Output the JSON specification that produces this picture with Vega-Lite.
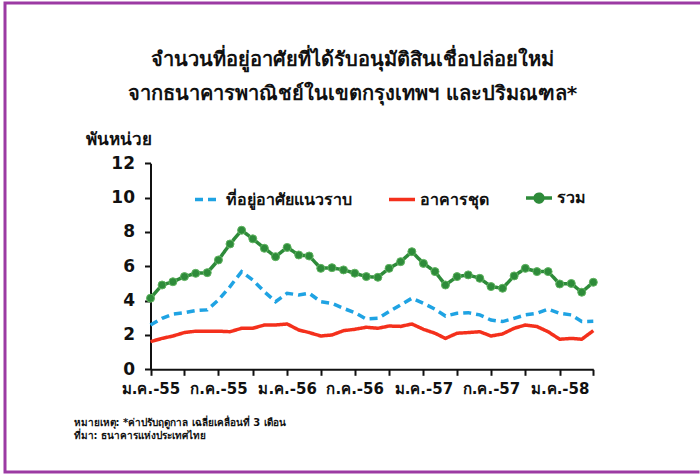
{
  "$schema": "https://vega.github.io/schema/vega-lite/v6.json",
  "width": 695,
  "height": 469,
  "autosize": "none",
  "padding": {"left": 5, "top": 3, "right": 0, "bottom": 2},
  "background": "white",
  "config": {
    "view": {"stroke": "#9c3aa3", "strokeWidth": 3, "strokeDash": [696.5, 468, 1170, 0]},
    "font": "Tahoma, DejaVu Sans, sans-serif"
  },
  "title": {
    "text": ["จำนวนที่อยู่อาศัยที่ได้รับอนุมัติสินเชื่อปล่อยใหม่", "จากธนาคารพาณิชย์ในเขตกรุงเทพฯ และปริมณฑล*"],
    "frame": "group",
    "anchor": "middle",
    "orient": "top",
    "offset": -101,
    "fontSize": 20,
    "fontWeight": "bold",
    "lineHeight": 34,
    "color": "#111111"
  },
  "data": {
    "values": [
      {"date": "2012-01-01", "series": "ที่อยู่อาศัยแนวราบ", "value": 2.58},
      {"date": "2012-02-01", "series": "ที่อยู่อาศัยแนวราบ", "value": 2.97},
      {"date": "2012-03-01", "series": "ที่อยู่อาศัยแนวราบ", "value": 3.22},
      {"date": "2012-04-01", "series": "ที่อยู่อาศัยแนวราบ", "value": 3.3},
      {"date": "2012-05-01", "series": "ที่อยู่อาศัยแนวราบ", "value": 3.42},
      {"date": "2012-06-01", "series": "ที่อยู่อาศัยแนวราบ", "value": 3.46},
      {"date": "2012-07-01", "series": "ที่อยู่อาศัยแนวราบ", "value": 4.04},
      {"date": "2012-08-01", "series": "ที่อยู่อาศัยแนวราบ", "value": 4.82},
      {"date": "2012-09-01", "series": "ที่อยู่อาศัยแนวราบ", "value": 5.69},
      {"date": "2012-10-01", "series": "ที่อยู่อาศัยแนวราบ", "value": 5.2},
      {"date": "2012-11-01", "series": "ที่อยู่อาศัยแนวราบ", "value": 4.52},
      {"date": "2012-12-01", "series": "ที่อยู่อาศัยแนวราบ", "value": 3.94},
      {"date": "2013-01-01", "series": "ที่อยู่อาศัยแนวราบ", "value": 4.43},
      {"date": "2013-02-01", "series": "ที่อยู่อาศัยแนวราบ", "value": 4.33},
      {"date": "2013-03-01", "series": "ที่อยู่อาศัยแนวราบ", "value": 4.43},
      {"date": "2013-04-01", "series": "ที่อยู่อาศัยแนวราบ", "value": 3.94},
      {"date": "2013-05-01", "series": "ที่อยู่อาศัยแนวราบ", "value": 3.84},
      {"date": "2013-06-01", "series": "ที่อยู่อาศัยแนวราบ", "value": 3.55},
      {"date": "2013-07-01", "series": "ที่อยู่อาศัยแนวราบ", "value": 3.3},
      {"date": "2013-08-01", "series": "ที่อยู่อาศัยแนวราบ", "value": 2.93},
      {"date": "2013-09-01", "series": "ที่อยู่อาศัยแนวราบ", "value": 2.97},
      {"date": "2013-10-01", "series": "ที่อยู่อาศัยแนวราบ", "value": 3.36},
      {"date": "2013-11-01", "series": "ที่อยู่อาศัยแนวราบ", "value": 3.75},
      {"date": "2013-12-01", "series": "ที่อยู่อาศัยแนวราบ", "value": 4.14},
      {"date": "2014-01-01", "series": "ที่อยู่อาศัยแนวราบ", "value": 3.84},
      {"date": "2014-02-01", "series": "ที่อยู่อาศัยแนวราบ", "value": 3.5},
      {"date": "2014-03-01", "series": "ที่อยู่อาศัยแนวราบ", "value": 3.1},
      {"date": "2014-04-01", "series": "ที่อยู่อาศัยแนวราบ", "value": 3.26},
      {"date": "2014-05-01", "series": "ที่อยู่อาศัยแนวราบ", "value": 3.3},
      {"date": "2014-06-01", "series": "ที่อยู่อาศัยแนวราบ", "value": 3.17},
      {"date": "2014-07-01", "series": "ที่อยู่อาศัยแนวราบ", "value": 2.87},
      {"date": "2014-08-01", "series": "ที่อยู่อาศัยแนวราบ", "value": 2.78},
      {"date": "2014-09-01", "series": "ที่อยู่อาศัยแนวราบ", "value": 2.97},
      {"date": "2014-10-01", "series": "ที่อยู่อาศัยแนวราบ", "value": 3.17},
      {"date": "2014-11-01", "series": "ที่อยู่อาศัยแนวราบ", "value": 3.26},
      {"date": "2014-12-01", "series": "ที่อยู่อาศัยแนวราบ", "value": 3.5},
      {"date": "2015-01-01", "series": "ที่อยู่อาศัยแนวราบ", "value": 3.26},
      {"date": "2015-02-01", "series": "ที่อยู่อาศัยแนวราบ", "value": 3.17},
      {"date": "2015-03-01", "series": "ที่อยู่อาศัยแนวราบ", "value": 2.78},
      {"date": "2015-04-01", "series": "ที่อยู่อาศัยแนวราบ", "value": 2.8},
      {"date": "2012-01-01", "series": "อาคารชุด", "value": 1.61},
      {"date": "2012-02-01", "series": "อาคารชุด", "value": 1.8},
      {"date": "2012-03-01", "series": "อาคารชุด", "value": 1.94},
      {"date": "2012-04-01", "series": "อาคารชุด", "value": 2.14},
      {"date": "2012-05-01", "series": "อาคารชุด", "value": 2.22},
      {"date": "2012-06-01", "series": "อาคารชุด", "value": 2.22},
      {"date": "2012-07-01", "series": "อาคารชุด", "value": 2.22},
      {"date": "2012-08-01", "series": "อาคารชุด", "value": 2.19},
      {"date": "2012-09-01", "series": "อาคารชุด", "value": 2.39},
      {"date": "2012-10-01", "series": "อาคารชุด", "value": 2.39},
      {"date": "2012-11-01", "series": "อาคารชุด", "value": 2.58},
      {"date": "2012-12-01", "series": "อาคารชุด", "value": 2.58},
      {"date": "2013-01-01", "series": "อาคารชุด", "value": 2.64},
      {"date": "2013-02-01", "series": "อาคารชุด", "value": 2.29},
      {"date": "2013-03-01", "series": "อาคารชุด", "value": 2.14},
      {"date": "2013-04-01", "series": "อาคารชุด", "value": 1.94},
      {"date": "2013-05-01", "series": "อาคารชุด", "value": 2.0},
      {"date": "2013-06-01", "series": "อาคารชุด", "value": 2.25},
      {"date": "2013-07-01", "series": "อาคารชุด", "value": 2.33},
      {"date": "2013-08-01", "series": "อาคารชุด", "value": 2.45},
      {"date": "2013-09-01", "series": "อาคารชุด", "value": 2.39},
      {"date": "2013-10-01", "series": "อาคารชุด", "value": 2.52},
      {"date": "2013-11-01", "series": "อาคารชุด", "value": 2.5},
      {"date": "2013-12-01", "series": "อาคารชุด", "value": 2.64},
      {"date": "2014-01-01", "series": "อาคารชุด", "value": 2.33},
      {"date": "2014-02-01", "series": "อาคารชุด", "value": 2.1},
      {"date": "2014-03-01", "series": "อาคารชุด", "value": 1.8},
      {"date": "2014-04-01", "series": "อาคารชุด", "value": 2.1},
      {"date": "2014-05-01", "series": "อาคารชุด", "value": 2.14},
      {"date": "2014-06-01", "series": "อาคารชุด", "value": 2.19},
      {"date": "2014-07-01", "series": "อาคารชุด", "value": 1.94},
      {"date": "2014-08-01", "series": "อาคารชุด", "value": 2.06},
      {"date": "2014-09-01", "series": "อาคารชุด", "value": 2.39},
      {"date": "2014-10-01", "series": "อาคารชุด", "value": 2.58},
      {"date": "2014-11-01", "series": "อาคารชุด", "value": 2.49},
      {"date": "2014-12-01", "series": "อาคารชุด", "value": 2.19},
      {"date": "2015-01-01", "series": "อาคารชุด", "value": 1.75},
      {"date": "2015-02-01", "series": "อาคารชุด", "value": 1.8},
      {"date": "2015-03-01", "series": "อาคารชุด", "value": 1.75},
      {"date": "2015-04-01", "series": "อาคารชุด", "value": 2.25},
      {"date": "2012-01-01", "series": "รวม", "value": 4.14},
      {"date": "2012-02-01", "series": "รวม", "value": 4.91},
      {"date": "2012-03-01", "series": "รวม", "value": 5.1},
      {"date": "2012-04-01", "series": "รวม", "value": 5.4},
      {"date": "2012-05-01", "series": "รวม", "value": 5.59},
      {"date": "2012-06-01", "series": "รวม", "value": 5.63},
      {"date": "2012-07-01", "series": "รวม", "value": 6.37},
      {"date": "2012-08-01", "series": "รวม", "value": 7.3},
      {"date": "2012-09-01", "series": "รวม", "value": 8.1},
      {"date": "2012-10-01", "series": "รวม", "value": 7.6},
      {"date": "2012-11-01", "series": "รวม", "value": 7.05},
      {"date": "2012-12-01", "series": "รวม", "value": 6.56},
      {"date": "2013-01-01", "series": "รวม", "value": 7.1},
      {"date": "2013-02-01", "series": "รวม", "value": 6.66},
      {"date": "2013-03-01", "series": "รวม", "value": 6.6},
      {"date": "2013-04-01", "series": "รวม", "value": 5.88},
      {"date": "2013-05-01", "series": "รวม", "value": 5.92},
      {"date": "2013-06-01", "series": "รวม", "value": 5.79},
      {"date": "2013-07-01", "series": "รวม", "value": 5.6},
      {"date": "2013-08-01", "series": "รวม", "value": 5.4},
      {"date": "2013-09-01", "series": "รวม", "value": 5.36},
      {"date": "2013-10-01", "series": "รวม", "value": 5.88},
      {"date": "2013-11-01", "series": "รวม", "value": 6.27},
      {"date": "2013-12-01", "series": "รวม", "value": 6.85},
      {"date": "2014-01-01", "series": "รวม", "value": 6.17},
      {"date": "2014-02-01", "series": "รวม", "value": 5.69},
      {"date": "2014-03-01", "series": "รวม", "value": 4.91},
      {"date": "2014-04-01", "series": "รวม", "value": 5.4},
      {"date": "2014-05-01", "series": "รวม", "value": 5.5},
      {"date": "2014-06-01", "series": "รวม", "value": 5.3},
      {"date": "2014-07-01", "series": "รวม", "value": 4.82},
      {"date": "2014-08-01", "series": "รวม", "value": 4.72},
      {"date": "2014-09-01", "series": "รวม", "value": 5.44},
      {"date": "2014-10-01", "series": "รวม", "value": 5.88},
      {"date": "2014-11-01", "series": "รวม", "value": 5.69},
      {"date": "2014-12-01", "series": "รวม", "value": 5.69},
      {"date": "2015-01-01", "series": "รวม", "value": 4.97},
      {"date": "2015-02-01", "series": "รวม", "value": 5.0},
      {"date": "2015-03-01", "series": "รวม", "value": 4.49},
      {"date": "2015-04-01", "series": "รวม", "value": 5.07}
    ]
  },
  "encoding": {
    "x": {
      "field": "date",
      "type": "temporal",
      "scale": {
        "type": "utc",
        "domain": [{"year": 2012, "month": 1, "date": 1, "utc": true}, {"year": 2015, "month": 4, "date": 1, "utc": true}],
        "range": [145.5, 588.3]
      },
      "axis": {
        "offset": -102.7,
        "grid": false,
        "values": [
          {"year": 2012, "month": 1, "date": 1, "utc": true},
          {"year": 2012, "month": 4, "date": 1, "utc": true},
          {"year": 2012, "month": 7, "date": 1, "utc": true},
          {"year": 2012, "month": 10, "date": 1, "utc": true},
          {"year": 2013, "month": 1, "date": 1, "utc": true},
          {"year": 2013, "month": 4, "date": 1, "utc": true},
          {"year": 2013, "month": 7, "date": 1, "utc": true},
          {"year": 2013, "month": 10, "date": 1, "utc": true},
          {"year": 2014, "month": 1, "date": 1, "utc": true},
          {"year": 2014, "month": 4, "date": 1, "utc": true},
          {"year": 2014, "month": 7, "date": 1, "utc": true},
          {"year": 2014, "month": 10, "date": 1, "utc": true},
          {"year": 2015, "month": 1, "date": 1, "utc": true},
          {"year": 2015, "month": 4, "date": 1, "utc": true}
        ],
        "labelExpr": "utcmonth(datum.value) == 0 ? 'ม.ค.-' + ((utcyear(datum.value) + 543) % 100) : utcmonth(datum.value) == 6 ? 'ก.ค.-' + ((utcyear(datum.value) + 543) % 100) : ''",
        "labelFontSize": 15,
        "labelFontWeight": "bold",
        "labelColor": "#111111",
        "labelPadding": 6,
        "labelFlush": false,
        "labelOverlap": false,
        "tickSize": 6,
        "tickWidth": 2,
        "tickColor": "#111111",
        "domainColor": "#111111",
        "domainWidth": 2,
        "title": ["หมายเหตุ: *ค่าปรับฤดูกาล เฉลี่ยเคลื่อนที่ 3 เดือน", "ที่มา: ธนาคารแห่งประเทศไทย"],
        "titleFontSize": 10,
        "titleFontWeight": "bold",
        "titleColor": "#111111",
        "titleAlign": "left",
        "titleBaseline": "alphabetic",
        "titleAnchor": "start",
        "titleX": 68,
        "titleY": 56,
        "titleLineHeight": 13
      }
    },
    "y": {
      "field": "value",
      "type": "quantitative",
      "scale": {"domain": [0, 12], "range": [366.3, 160.3], "nice": false, "zero": true},
      "axis": {
        "offset": -145.5,
        "grid": false,
        "values": [0, 2, 4, 6, 8, 10, 12],
        "labelFontSize": 17,
        "labelFontWeight": "bold",
        "labelColor": "#111111",
        "labelPadding": 10,
        "tickSize": 6,
        "tickWidth": 2,
        "tickColor": "#111111",
        "domainColor": "#111111",
        "domainWidth": 2,
        "title": "พันหน่วย",
        "titleAngle": 0,
        "titleAlign": "left",
        "titleBaseline": "alphabetic",
        "titleX": -65,
        "titleY": 141,
        "titleFontSize": 17,
        "titleFontWeight": "bold",
        "titleColor": "#111111"
      }
    }
  },
  "layer": [
    {
      "mark": {"type": "line", "strokeWidth": 3.5},
      "encoding": {
        "color": {
          "field": "series",
          "type": "nominal",
          "scale": {"domain": ["ที่อยู่อาศัยแนวราบ", "อาคารชุด", "รวม"], "range": ["#1fa3e3", "#f4301c", "#2e8b3a"]},
          "legend": {
            "title": null,
            "orient": "none",
            "legendX": 188,
            "legendY": 180,
            "direction": "horizontal",
            "symbolSize": 676,
            "symbolStrokeWidth": 3.5,
            "labelFontSize": 16,
            "labelFontWeight": "bold",
            "labelColor": "#111111",
            "labelOffset": 3,
            "columnPadding": 30,
            "encode": {
              "symbols": {
                "update": {
                  "shape": {"signal": "datum.value == 'รวม' ? 'M-1,0L1,0M-0.3,0A0.3,0.3 0 1,0 0.3,0A0.3,0.3 0 1,0 -0.3,0Z' : 'stroke'"},
                  "fill": {"signal": "datum.value == 'รวม' ? '#2e8b3a' : 'transparent'"}
                }
              }
            }
          }
        },
        "strokeDash": {
          "field": "series",
          "type": "nominal",
          "scale": {"domain": ["ที่อยู่อาศัยแนวราบ", "อาคารชุด", "รวม"], "range": [[8, 5], [1, 0], [1, 0]]},
          "legend": {"title": null, "orient": "none", "legendX": 188, "legendY": 180, "direction": "horizontal"}
        }
      }
    },
    {
      "transform": [{"filter": "datum.series == 'รวม'"}],
      "mark": {"type": "point", "filled": true, "size": 64, "color": "#2e8b3a", "stroke": "#5fb35f", "strokeWidth": 1, "opacity": 1}
    }
  ]
}
